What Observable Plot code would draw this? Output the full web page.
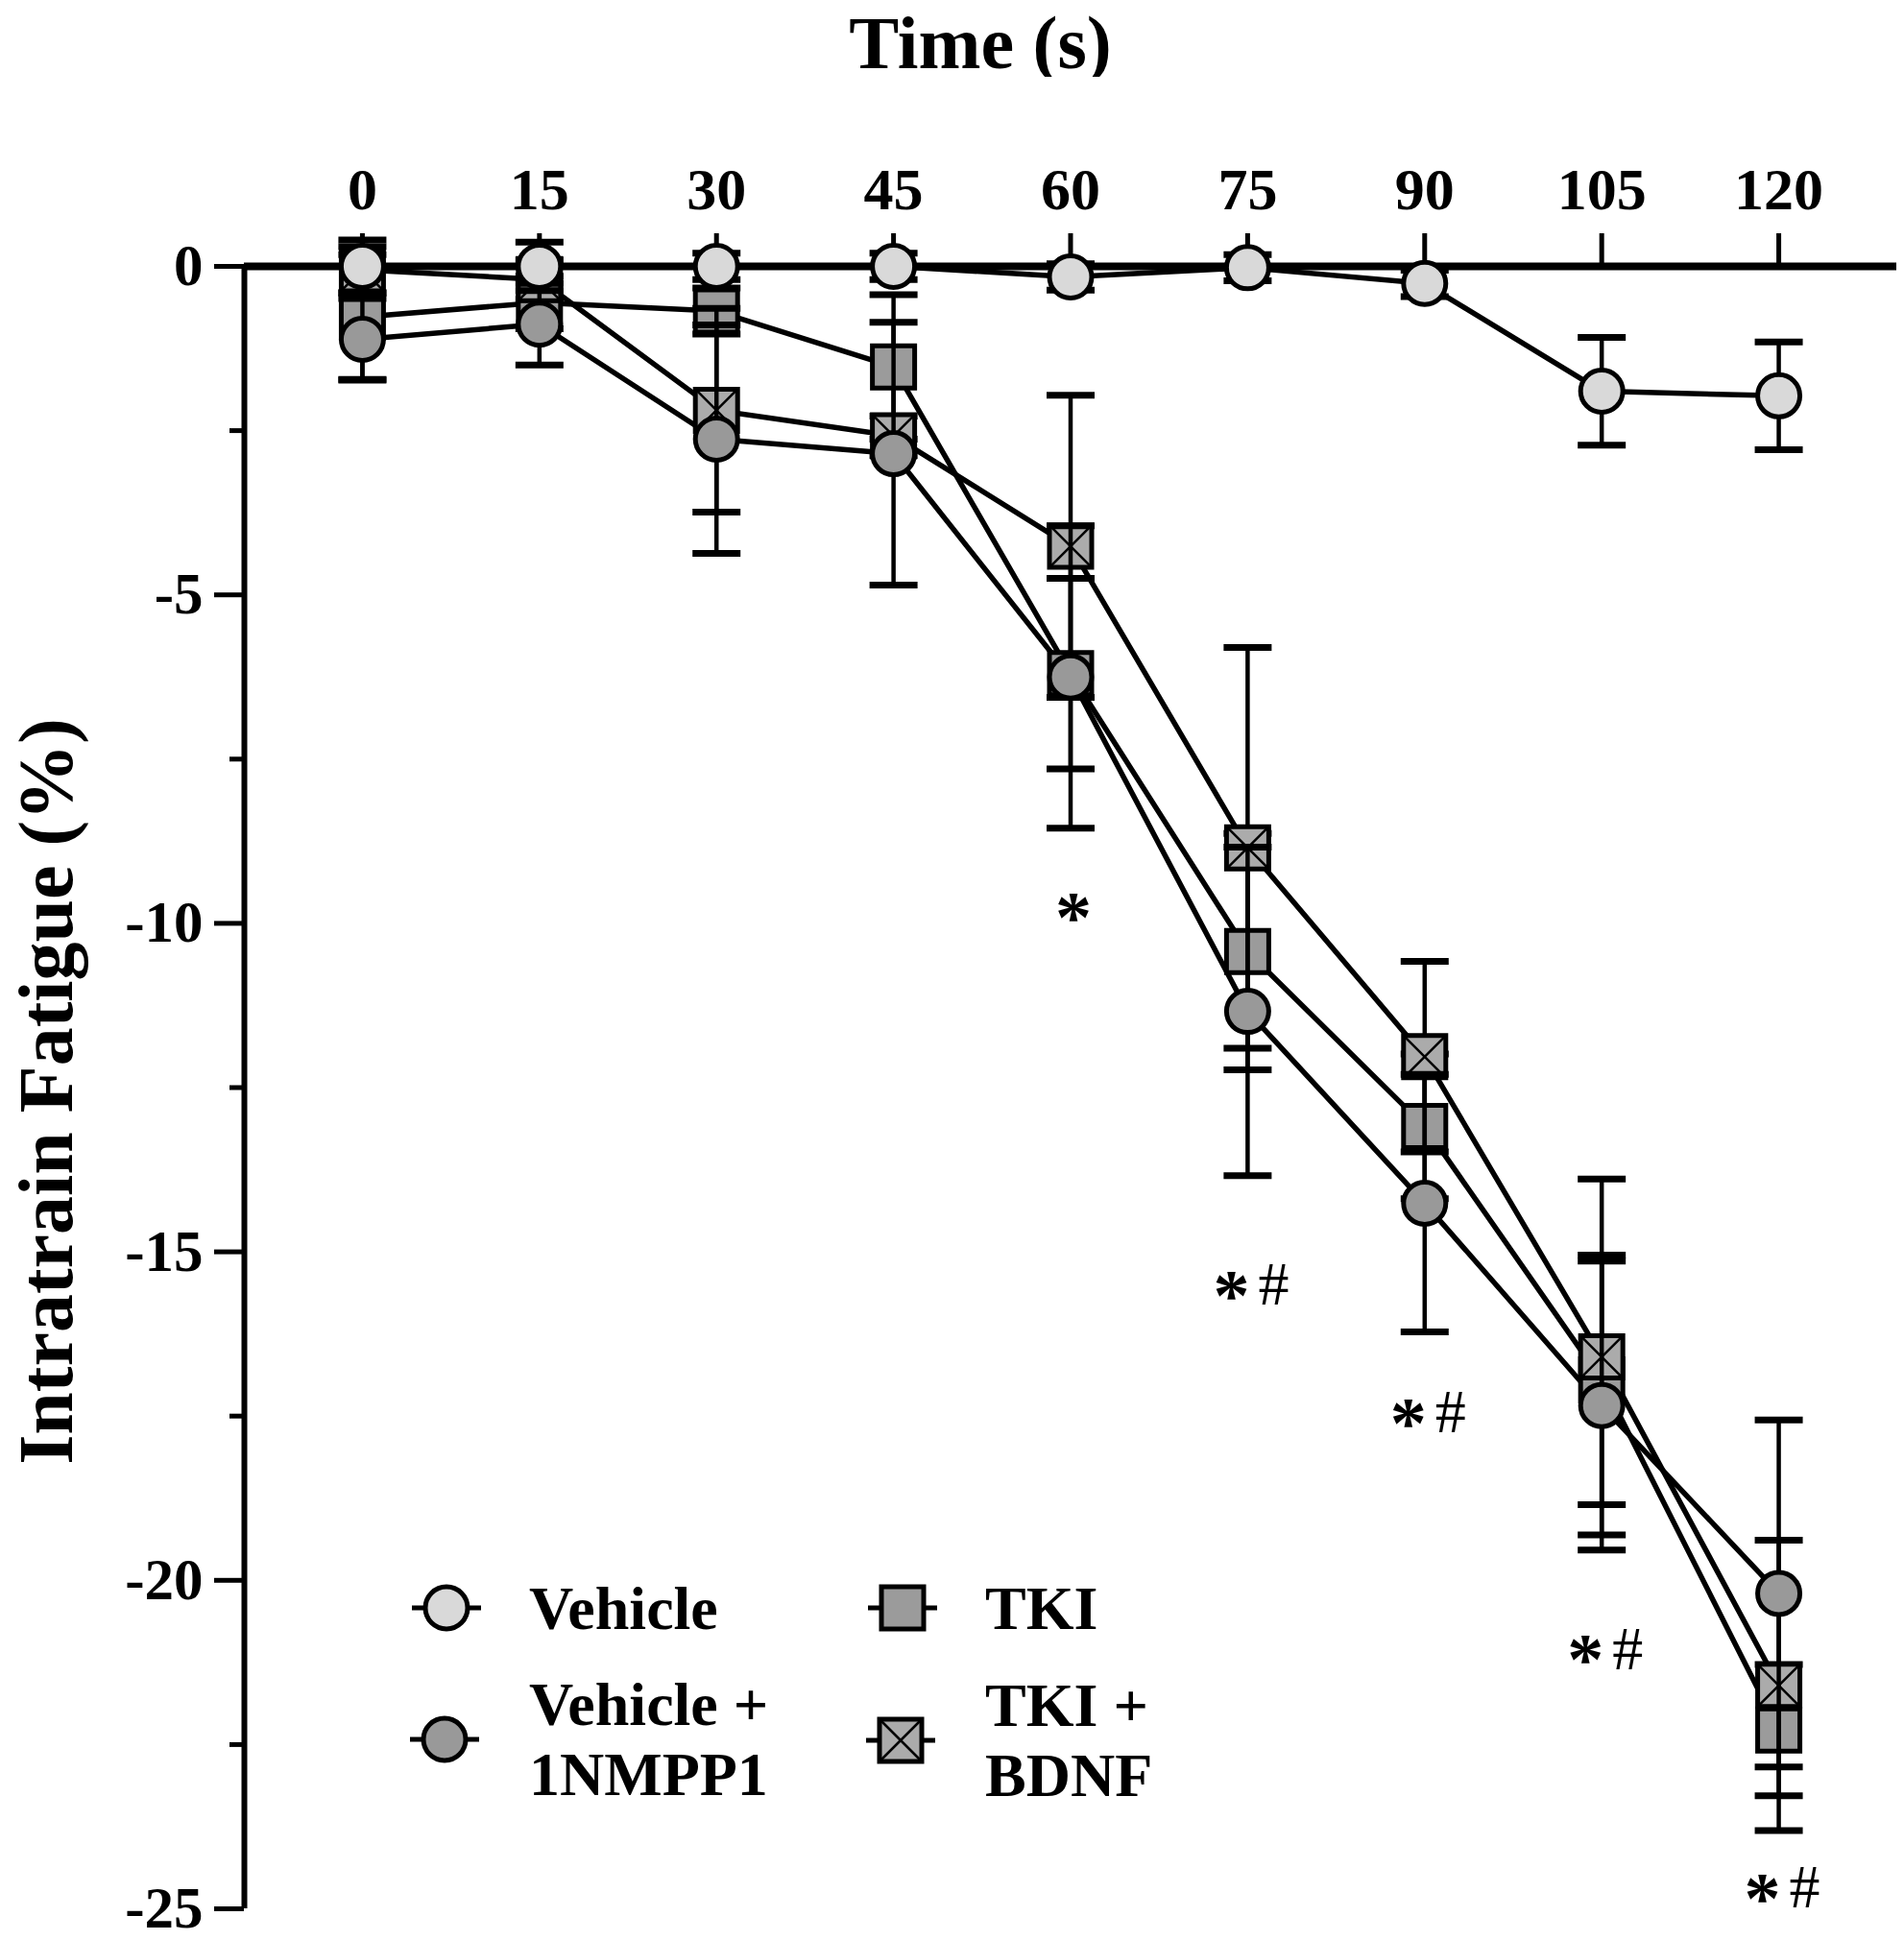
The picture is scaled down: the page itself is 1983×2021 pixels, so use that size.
<!DOCTYPE html>
<html><head><meta charset="utf-8">
<script src="https://cdn.jsdelivr.net/npm/d3@7"></script>
<script src="https://cdn.jsdelivr.net/npm/@observablehq/plot@0.6"></script>
<style>
html,body{margin:0;padding:0;background:#fff;overflow:hidden;}
#wrap{position:relative;width:1983px;height:2021px;}
#title{position:absolute;left:1021px;top:0;transform:translateX(-50%);font-family:"Liberation Serif";font-weight:bold;font-size:78px;line-height:normal;white-space:nowrap;}
#chart{position:absolute;left:0;top:80px;}
#legend{position:absolute;left:0;top:0;pointer-events:none;}
</style></head><body>
<div id="wrap"><div id="title">Time (s)</div><div id="chart"></div><svg id="legend" width="1983" height="2021"></svg></div>
<script>
// ---- data ----
const time = [0, 15, 30, 45, 60, 75, 90, 105, 120];
const vehicle    = [0, 0, 0, 0, -0.16, -0.02, -0.26, -1.9, -1.97];
const vehicleErr = [0.4, 0.37, 0.2, 0.2, 0.2, 0.2, 0.2, 0.82, 0.82];
const nmpp1      = [-1.11, -0.88, -2.63, -2.85, -6.25, -11.34, -14.26, -17.34, -20.2];
const nmpp1Err   = [0.62, 0.62, 1.74, 2.0, 2.3, 2.5, 1.96, 2.2, 2.64];
const tki        = [-0.77, -0.55, -0.68, -1.53, -6.2, -10.43, -13.09, -16.95, -22.28];
const tkiErr     = [0.95, 0.4, 0.35, 1.1, 1.45, 1.8, 1.1, 1.9, 1.0];
const bdnf       = [-0.05, -0.2, -2.19, -2.58, -4.26, -8.85, -12.03, -16.6, -21.6];
const bdnfErr    = [0.35, 0.3, 1.55, 0.3, 2.3, 3.05, 1.45, 2.71, 2.21];
const seriesNames = ["TKI", "TKI + BDNF", "Vehicle + 1NMPP1", "Vehicle"];
const yTicks = [0, -5, -10, -15, -20, -25];
const yMinor = [-2.5, -7.5, -12.5, -17.5, -22.5];
const sigTime = [60, 75, 90, 105, 120];
const sigY    = [-9.75, -15.5, -17.45, -21.05, -24.68];
const sigText = ["*", "*#", "*#", "*#", "*#"];
const xLabel = "Time (s)";
const yLabel = "Intratrain Fatigue (%)";
const legendNames = ["Vehicle", "TKI", "Vehicle + 1NMPP1", "TKI + BDNF"];
const legendLines = [["Vehicle"], ["TKI"], ["Vehicle +", "1NMPP1"], ["TKI +", "BDNF"]];

// ---- styles ----
const FONT = "Liberation Serif";
const styleBy = {
  "TKI": {fill: "#9b9b9b", shape: "square"},
  "TKI + BDNF": {fill: "#ababab", shape: "crossed"},
  "Vehicle + 1NMPP1": {fill: "#999999", shape: "circle"},
  "Vehicle": {fill: "#d9d9d9", shape: "circle"}
};
const valuesBy = {
  "TKI": [tki, tkiErr], "TKI + BDNF": [bdnf, bdnfErr],
  "Vehicle + 1NMPP1": [nmpp1, nmpp1Err], "Vehicle": [vehicle, vehicleErr]
};
const rows = seriesNames.flatMap(s => time.map((t, i) => ({series: s, t, y: valuesBy[s][0][i], e: valuesBy[s][1][i]})));
const sig = sigTime.map((t, i) => ({t, y: sigY[i], hash: sigText[i].includes("#")}));

const squareSym = {draw(c, size) { const h = Math.sqrt(size / Math.PI); c.moveTo(-h, -h); c.lineTo(h, -h); c.lineTo(h, h); c.lineTo(-h, h); c.closePath(); }};
const crossSym = {draw(c, size) { const h = Math.sqrt(size / Math.PI); c.moveTo(-h, -h); c.lineTo(h, h); c.moveTo(h, -h); c.lineTo(-h, h); }};
const capSym = {draw(c, size) { const h = Math.sqrt(size / Math.PI); c.moveTo(-h, 0); c.lineTo(h, 0); }};

const xDomain = [-10, 130];
const seriesMarks = seriesNames.flatMap(s => {
  const d = rows.filter(r => r.series === s);
  const st = styleBy[s];
  const m = [
    Plot.ruleX(d, {x: "t", y1: r => r.y - r.e, y2: r => r.y + r.e, stroke: "black", strokeWidth: 4.5}),
    Plot.dot(d, {x: "t", y: r => r.y + r.e, symbol: capSym, r: 25, stroke: "black", strokeWidth: 7, fill: "none"}),
    Plot.dot(d, {x: "t", y: r => r.y - r.e, symbol: capSym, r: 25, stroke: "black", strokeWidth: 7, fill: "none"})
  ];
  if (st.shape === "circle") {
    m.push(Plot.dot(d, {x: "t", y: "y", r: 22, fill: st.fill, stroke: "black", strokeWidth: 5}));
  } else {
    m.push(Plot.dot(d, {x: "t", y: "y", symbol: squareSym, r: 22, fill: st.fill, stroke: "black", strokeWidth: 5}));
    if (st.shape === "crossed") m.push(Plot.dot(d, {x: "t", y: "y", symbol: crossSym, r: 22, fill: "none", stroke: "black", strokeWidth: 2.5}));
  }
  return m;
});

const chart = Plot.plot({
  width: 1983, height: 1941,
  marginTop: 197, marginBottom: 33, marginLeft: 254, marginRight: 8,
  x: {domain: xDomain},
  y: {domain: [-25, 0]},
  style: {fontFamily: FONT, fontWeight: "bold", background: "white"},
  marks: [
    Plot.ruleX([xDomain[0]], {y1: -25, y2: 0, stroke: "black", strokeWidth: 6}),
    Plot.ruleY([0], {stroke: "black", strokeWidth: 8}),
    Plot.axisX({anchor: "top", ticks: time, tickSize: 35, tickPadding: 25, strokeWidth: 5, fontSize: 62, tickFormat: d => String(d), label: null}),
    Plot.axisY({anchor: "left", ticks: yTicks, tickSize: 31, tickPadding: 12, strokeWidth: 5, fontSize: 61, tickFormat: d => String(d), label: null}),
    Plot.axisY({anchor: "left", ticks: yMinor, tickSize: 15, strokeWidth: 5, tickFormat: () => "", label: null}),
    Plot.line(rows, {x: "t", y: "y", z: "series", stroke: "black", strokeWidth: 5.5}),
    ...seriesMarks,
    Plot.text(sig, {filter: d => d.hash, x: "t", y: "y", text: () => "*", dx: -17, dy: 12, fontSize: 76, fontWeight: "bold"}),
    Plot.text(sig, {filter: d => !d.hash, x: "t", y: "y", text: () => "*", dx: 3, dy: 12, fontSize: 76, fontWeight: "bold"}),
    Plot.text(sig, {filter: d => d.hash, x: "t", y: "y", text: () => "#", dx: 27, fontSize: 64, fontWeight: "normal"}),
    Plot.text([yLabel], {frameAnchor: "left", textAnchor: "middle", text: d => d, rotate: -90, dx: -205, dy: 4, fontSize: 80, fontWeight: "bold"})
  ]
});
document.getElementById("chart").appendChild(chart);

// ---- legend (overlay) ----
const lg = d3.select("#legend");
const legendPos = [[465, 1675], [940, 1675], [463, 1812], [938, 1813]];
const textX = [551, 1026, 551, 1026];
legendNames.forEach((name, i) => {
  const lines = legendLines[i];
  const st = styleBy[name];
  const [cx, cy] = legendPos[i];
  const g = lg.append("g").attr("transform", `translate(${cx},${cy})`);
  g.append("line").attr("x1", -36).attr("x2", 36).attr("stroke", "black").attr("stroke-width", 5);
  if (st.shape === "circle") {
    g.append("circle").attr("r", 22).attr("fill", st.fill).attr("stroke", "black").attr("stroke-width", 5);
  } else {
    g.append("rect").attr("x", -22).attr("y", -22).attr("width", 44).attr("height", 44).attr("fill", st.fill).attr("stroke", "black").attr("stroke-width", 5);
    if (st.shape === "crossed") g.append("path").attr("d", "M-22,-22L22,22M22,-22L-22,22").attr("stroke", "black").attr("stroke-width", 2.5);
  }
  const baselines = lines.length === 1 ? [cy + 22] : [cy - 15, cy + 58];
  lines.forEach((ln, j) => {
    lg.append("text").attr("x", textX[i]).attr("y", baselines[j]).attr("font-family", FONT).attr("font-weight", "bold").attr("font-size", 64).text(ln);
  });
});
</script>
</body></html>
